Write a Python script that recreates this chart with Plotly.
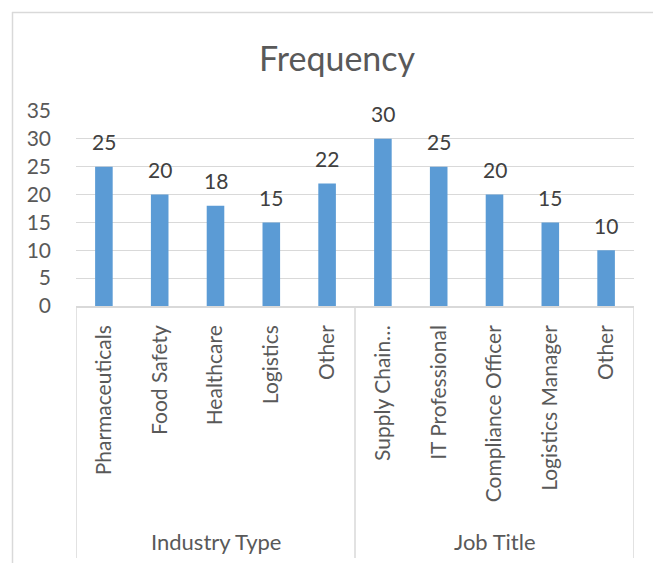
import plotly.graph_objects as go

groups = ["Industry Type", "Job Title"]
categories = ["Pharmaceuticals", "Food Safety", "Healthcare", "Logistics", "Other",
              "Supply Chain…", "IT Professional", "Compliance Officer", "Logistics Manager", "Other"]
group_of = ["Industry Type"] * 5 + ["Job Title"] * 5
values = [25, 20, 18, 15, 22, 30, 25, 20, 15, 10]
y_ticks = [0, 5, 10, 15, 20, 25, 30, 35]

W, H = 653, 563
L, R, T, B = 76, 19, 111, 257
PW = W - L - R
PH = H - T - B

def px_to_paper_x(px):
    return (px - L) / PW

def px_to_paper_y(py):
    return (H - B - py) / PH

FONT = "Lato"
TXT = "#595959"
LINE = "#d9d9d9"

xs = list(range(len(categories)))

fig = go.Figure()
fig.add_trace(go.Bar(
    x=xs, y=values, marker=dict(color="#5B9BD5", line=dict(width=0)),
    width=0.315, hoverinfo="skip",
))

annotations = []
for x, v in zip(xs, values):
    annotations.append(dict(x=x, y=v, xref="x", yref="y", text=str(v), showarrow=False,
                            yanchor="middle", yshift=25,
                            font=dict(family=FONT, size=21, color="#404040")))

# group labels and dividers
shapes = []
for g in groups:
    idx = [i for i, gg in enumerate(group_of) if gg == g]
    c = (idx[0] + idx[-1]) / 2
    annotations.append(dict(x=c, y=px_to_paper_y(541), xref="x", yref="paper", text=g,
                            showarrow=False, yanchor="middle",
                            font=dict(family=FONT, size=22, color=TXT)))
div_pos = [-0.5] + [i + 0.5 for i in range(len(group_of) - 1) if group_of[i] != group_of[i + 1]] + [len(group_of) - 0.5]
for d in div_pos:
    shapes.append(dict(type="line", xref="x", yref="paper", x0=d, x1=d,
                       y0=0, y1=px_to_paper_y(558), line=dict(color=LINE, width=1.5)))

# chart border
shapes.append(dict(type="line", xref="paper", yref="paper",
                   x0=px_to_paper_x(12), x1=px_to_paper_x(660),
                   y0=px_to_paper_y(12.5), y1=px_to_paper_y(12.5), line=dict(color=LINE, width=1.5)))
shapes.append(dict(type="line", xref="paper", yref="paper",
                   x0=px_to_paper_x(12.5), x1=px_to_paper_x(12.5),
                   y0=px_to_paper_y(12), y1=px_to_paper_y(580), line=dict(color=LINE, width=1.5)))

annotations.append(dict(x=px_to_paper_x(337), y=px_to_paper_y(57), xref="paper", yref="paper",
                        text="Frequency", showarrow=False, yanchor="middle", xanchor="center",
                        font=dict(family=FONT, size=34, color=TXT)))

fig.update_layout(
    width=W, height=H, margin=dict(l=L, r=R, t=T, b=B, pad=0),
    paper_bgcolor="white", plot_bgcolor="white",
    showlegend=False, annotations=annotations, shapes=shapes,
    font=dict(family=FONT, color=TXT),
)
fig.update_xaxes(
    tickmode="array", tickvals=xs, ticktext=categories, tickangle=-90,
    range=[-0.5, len(categories) - 0.5], showgrid=False, zeroline=False,
    showline=True, linecolor=LINE, linewidth=1.5, ticks="",
    tickfont=dict(family=FONT, size=21, color=TXT), ticklabelstandoff=9,
)
fig.update_yaxes(
    range=[0, 35], tickvals=y_ticks, showgrid=True, gridcolor=LINE, gridwidth=1,
    zeroline=False, showline=False, ticks="",
    tickfont=dict(family=FONT, size=21, color=TXT), ticklabelstandoff=24,
)
fig.write_html("out.html")
